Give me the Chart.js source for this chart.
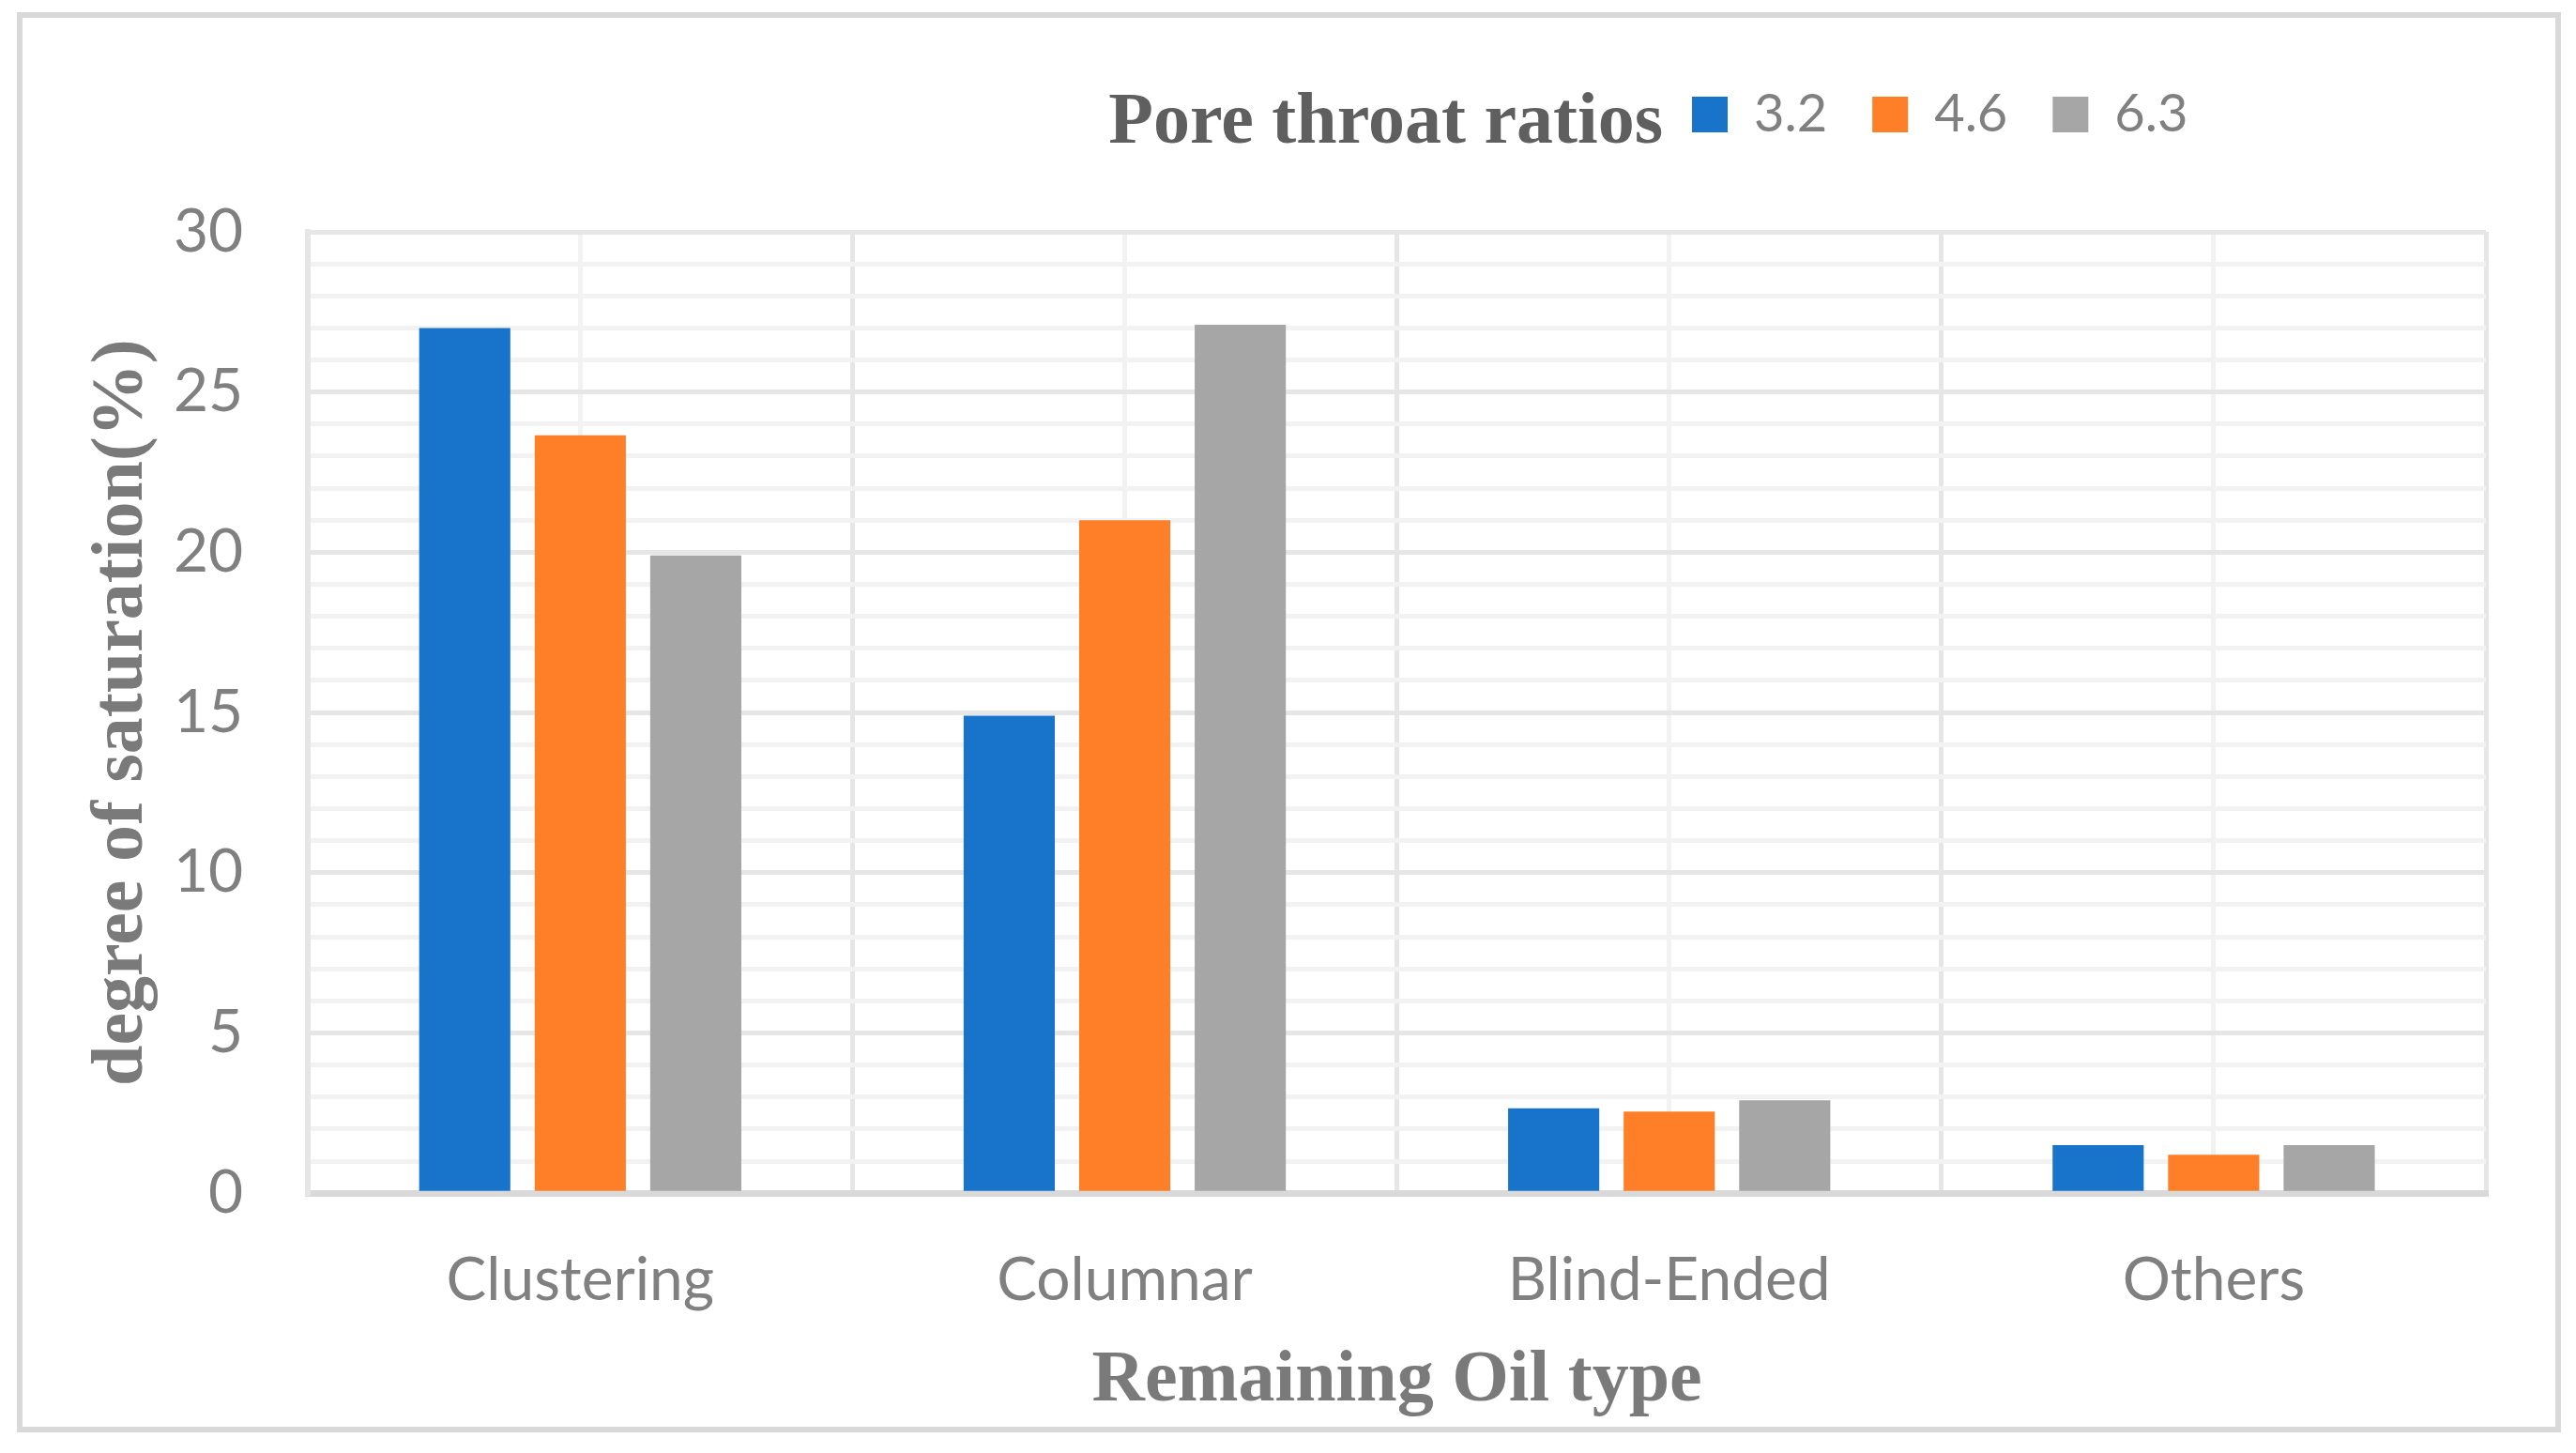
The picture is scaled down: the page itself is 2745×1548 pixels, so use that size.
<!DOCTYPE html>
<html>
<head>
<meta charset="utf-8">
<script src="https://cdn.jsdelivr.net/npm/chart.js@4.4.1/dist/chart.umd.min.js"></script>
<style>
  html, body { margin: 0; padding: 0; background: #fff; }
  #wrap { position: relative; width: 2745px; height: 1548px; }
  #frame { position: absolute; left: 18px; top: 13px; width: 2699px; height: 1501px; border: 6px solid #d9d9d9; }
  canvas { position: absolute; left: 0; top: 0; }
</style>
</head>
<body>
<div id="wrap">
  <div id="frame"></div>
  <canvas id="grafik-batang" width="2745" height="1548"></canvas>
</div>
<script>
// Jenis minyak sisa (kategori) dan nilai saturasi per rasio pore throat
var categories = ['Clustering', 'Columnar', 'Blind-Ended', 'Others'];
var seriesNames = ['3.2', '4.6', '6.3'];
var ratio32 = [27.0, 14.9, 2.65, 1.5];
var ratio46 = [23.65, 21.0, 2.55, 1.2];
var ratio63 = [19.9, 27.1, 2.9, 1.5];
var yTicks = [0, 5, 10, 15, 20, 25, 30];

var colors = ['#1874cb', '#fe7f27', '#a6a6a6'];
var grey = '#808080';

// judul legenda digambar di kiri item legenda
var legendTitle = {
    id: 'legendTitle',
    afterLayout: function (chart) {
        var lg = chart.legend;
        var dy = 46 - lg.top;
        lg.top += dy;
        lg.bottom += dy;
        lg.left = 1755;
        lg.right = chart.width;
    },
    afterDraw: function (chart) {
        var box = chart.legend.legendHitBoxes[0];
        var ctx = chart.ctx;
        ctx.save();
        ctx.font = 'bold 78px "Liberation Serif"';
        ctx.fillStyle = '#5f5f5f';
        ctx.textAlign = 'right';
        ctx.textBaseline = 'alphabetic';
        ctx.fillText('Pore throat ratios', box.left - 31, 152);
        ctx.restore();
    }
};

var canvas = document.getElementById('grafik-batang');

var config = {
    type: 'bar',
    data: {
        labels: categories,
        datasets: [
            { label: seriesNames[0], data: ratio32, backgroundColor: colors[0] },
            { label: seriesNames[1], data: ratio46, backgroundColor: colors[1] },
            { label: seriesNames[2], data: ratio63, backgroundColor: colors[2] }
        ]
    },
    options: {
        responsive: false,
        animation: false,
        devicePixelRatio: 1,
        layout: { padding: { top: 133, left: 60, right: 96, bottom: 37 } },
        datasets: { bar: { categoryPercentage: 0.6365, barPercentage: 0.789 } },
        plugins: {
            legend: {
                position: 'top',
                align: 'start',
                labels: {
                    boxWidth: 38,
                    boxHeight: 38,
                    padding: 48,
                    color: grey,
                    font: { family: 'Lato', size: 56, lineHeight: 1 }
                }
            },
            tooltip: { enabled: false }
        },
        scales: {
            x: {
                grid: { offset: true, color: '#e6e6e6', lineWidth: 5, tickLength: 50, tickColor: 'rgba(0,0,0,0)' },
                border: { color: '#d9d9d9', width: 7 },
                ticks: { padding: 5, color: grey, font: { family: 'Lato', size: 64 } },
                title: {
                    display: true,
                    text: 'Remaining Oil type',
                    color: '#7a7a7a',
                    font: { family: 'Liberation Serif', size: 78, weight: 'bold', lineHeight: 1 },
                    padding: { top: 25, bottom: 0 }
                }
            },
            x2: {
                type: 'category',
                position: 'top',
                offset: true,
                grid: { offset: false, color: '#f2f2f2', lineWidth: 5, drawTicks: false },
                border: { display: false },
                ticks: { display: false }
            },
            y: {
                min: 0,
                max: 30,
                ticks: {
                    stepSize: 1,
                    autoSkip: false,
                    padding: 9,
                    color: grey,
                    font: { family: 'Lato', size: 64 },
                    callback: function (value) {
                        return yTicks.indexOf(value) >= 0 ? value : '';
                    }
                },
                grid: {
                    color: function (c) {
                        return c.tick && yTicks.indexOf(c.tick.value) >= 0 ? '#e6e6e6' : '#f2f2f2';
                    },
                    lineWidth: 5,
                    tickLength: 60,
                    tickColor: 'rgba(0,0,0,0)'
                },
                border: { color: '#e6e6e6', width: 6 },
                title: {
                    display: true,
                    text: 'degree of saturation(%)',
                    color: '#7a7a7a',
                    font: { family: 'Liberation Serif', size: 78, weight: 'bold', lineHeight: 1 },
                    padding: { top: 32, bottom: 6 }
                }
            }
        }
    },
    plugins: [legendTitle]
};

var myBarChart = new Chart(canvas, config);
</script>
</body>
</html>
